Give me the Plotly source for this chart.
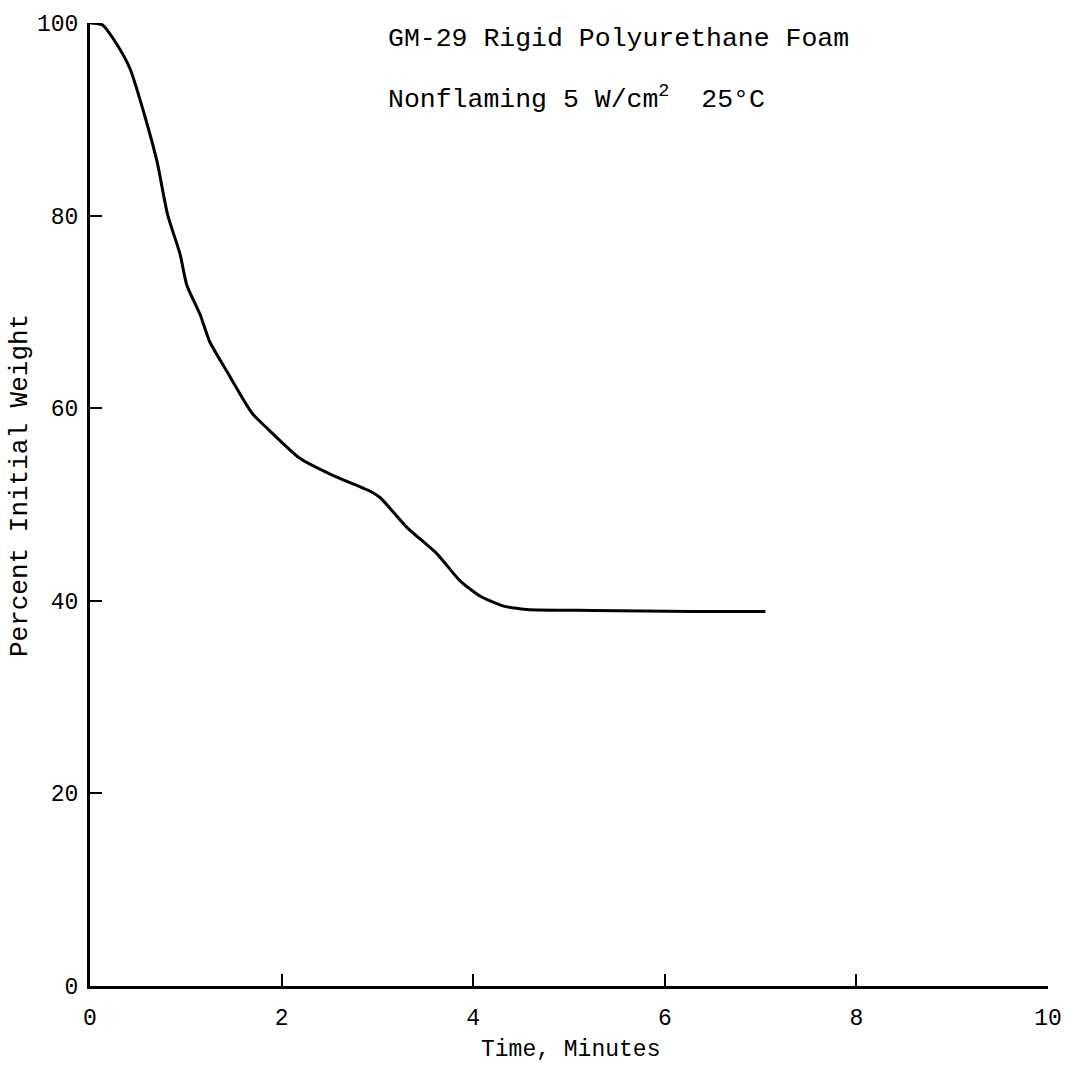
import plotly.graph_objects as go

time_min = [0, 0.13, 0.28, 0.42, 0.55, 0.70, 0.81, 0.94, 1.01, 1.15, 1.25, 1.43,
            1.69, 1.85, 2.19, 2.54, 2.92, 3.03, 3.31, 3.62, 3.86, 4.07, 4.30,
            4.56, 5.25, 6.29, 7.05]
pct_weight = [100, 99.8, 97.8, 95.2, 91.1, 85.6, 80.1, 76.0, 72.8, 69.7, 66.9, 63.8,
              59.5, 57.9, 54.8, 53.0, 51.4, 50.7, 47.6, 44.9, 42.1, 40.5, 39.5,
              39.1, 39.0, 38.9, 38.9]
x_ticks = [0, 2, 4, 6, 8, 10]
y_ticks = [0, 20, 40, 60, 80, 100]

FONT = "Liberation Mono, Courier New, monospace"

fig = go.Figure()
fig.add_trace(go.Scatter(x=time_min, y=pct_weight, mode="lines",
                         line=dict(color="black", width=3, shape="spline", smoothing=0.6),
                         cliponaxis=False, showlegend=False))

fig.update_layout(
    width=1076, height=1081,
    margin=dict(l=90, r=28, t=21, b=95),
    plot_bgcolor="white", paper_bgcolor="white",
    font=dict(family=FONT, color="black", size=22),
    xaxis=dict(range=[0, 10], tickvals=x_ticks, ticks="inside", ticklen=12, tickwidth=2,
               tickcolor="black", showline=True, linecolor="black", linewidth=3,
               showgrid=False, zeroline=False, tickfont=dict(size=23, family=FONT),
               ticklabelstandoff=8),
    yaxis=dict(range=[0, 100], tickvals=y_ticks, ticks="inside", ticklen=12, tickwidth=2,
               tickcolor="black", showline=True, linecolor="black", linewidth=3,
               showgrid=False, zeroline=False, tickfont=dict(size=23, family=FONT),
               ticklabelstandoff=4),
)

# axis titles placed as annotations
fig.add_annotation(xref="paper", yref="paper", x=(570 - 90) / 958, y=(986 - 1050) / 965,
                   xanchor="center", yanchor="middle", showarrow=False,
                   text="Time, Minutes", font=dict(size=23, family=FONT))
fig.add_annotation(xref="paper", yref="paper", x=(20 - 90) / 958, y=(986 - 485) / 965,
                   xanchor="center", yanchor="middle", showarrow=False, textangle=-90,
                   text="Percent Initial Weight", font=dict(size=26, family=FONT))

# chart labels
fig.add_annotation(xref="paper", yref="paper", x=(386 - 90) / 958, y=1 - (37 - 21) / 965,
                   xanchor="left", yanchor="middle", showarrow=False,
                   text="GM-29 Rigid Polyurethane Foam", font=dict(size=26.5, family=FONT))
fig.add_annotation(xref="paper", yref="paper", x=(386 - 90) / 958, y=1 - (96 - 21) / 965,
                   xanchor="left", yanchor="middle", showarrow=False,
                   text="Nonflaming 5 W/cm<sup>2</sup>  25°C", font=dict(size=26.5, family=FONT))

fig.write_html("out.html")
